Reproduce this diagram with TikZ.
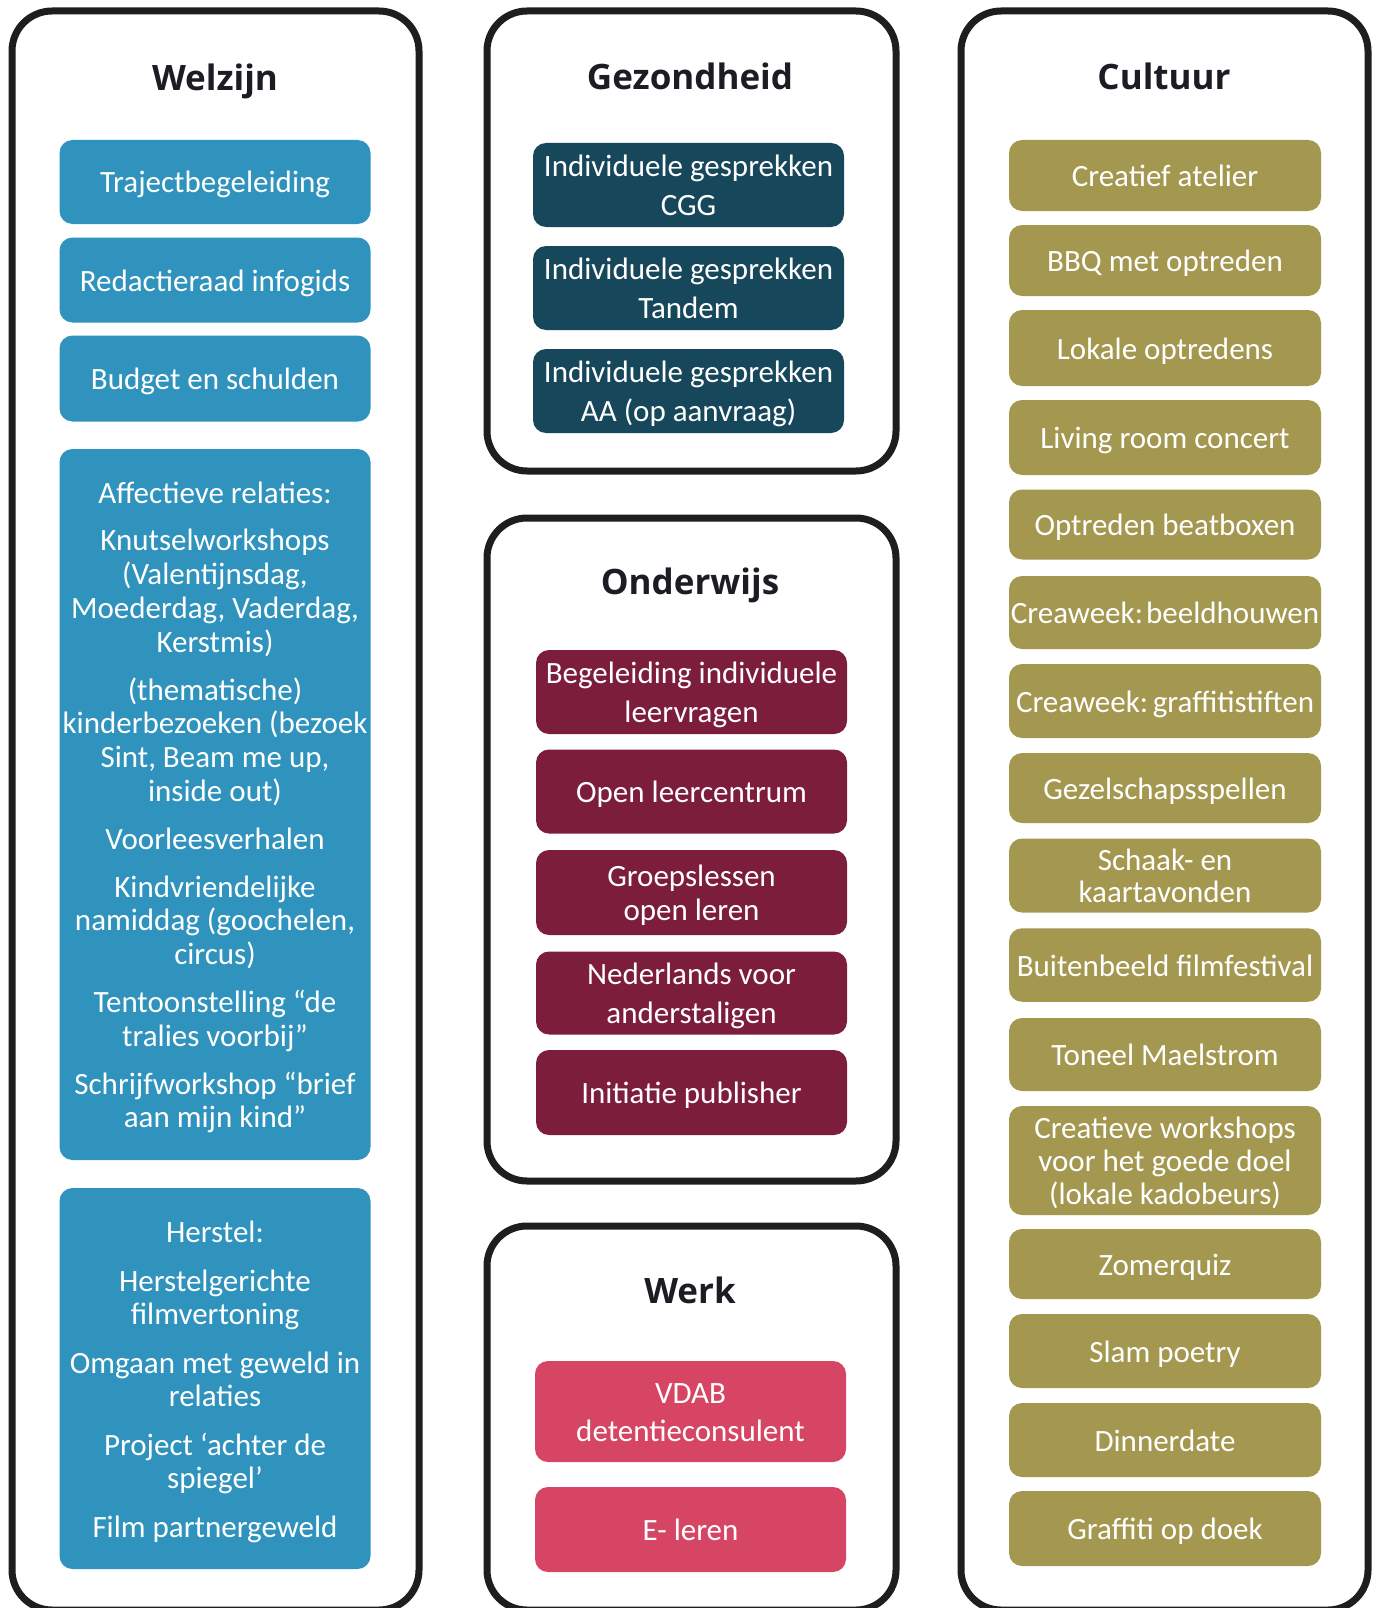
\documentclass[tikz,border=0pt]{standalone}
\usepackage{fontspec}
\setmainfont{Carlito}
\newfontfamily\titlefont{Open Sans}
\newcommand\strtop{\rule{0pt}{30pt}}
\newcommand\strbot{\rule[-8pt]{0pt}{8pt}}
\definecolor{framecol}{HTML}{1E1E1E}
\definecolor{titlecol}{HTML}{1C1C24}
\definecolor{wel}{HTML}{2F93BD}
\definecolor{gez}{HTML}{17475A}
\definecolor{ond}{HTML}{7D1D3C}
\definecolor{wrk}{HTML}{D64564}
\definecolor{cul}{HTML}{A49850}
\begin{document}
\begin{tikzpicture}[x=1pt,y=-1pt,
  frame/.style={draw=framecol, line width=7pt, rounded corners=40pt},
  ttl/.style={anchor=base, inner sep=0pt, text=titlecol, font=\titlefont\bfseries\fontsize{35}{40}\selectfont},
  item/.style={rounded corners=13pt, inner sep=0pt, minimum width=311pt, text=white, align=center, font=\fontsize{31}{33.8}\selectfont},
  welbox/.style={item, fill=wel},
  gezbox/.style={item, fill=gez},
  ondbox/.style={item, fill=ond},
  wrkbox/.style={item, fill=wrk},
  culbox/.style={item, fill=cul, minimum width=312pt}]
\fill[white] (0,0) rectangle (1378,1608);
\begin{scope}
\clip (0,0) rectangle (1378,1608);
% frames
\draw[frame] (12,11) rectangle (419,1610);
\draw[frame] (487,11) rectangle (896,471);
\draw[frame] (487,518) rectangle (896,1181);
\draw[frame] (487,1226) rectangle (896,1610);
\draw[frame] (961,11) rectangle (1368,1610);
\end{scope}
\useasboundingbox (0,0) rectangle (1378,1608);

% titles
\node[ttl] (tW) at (215,91) {Welzijn};
\node[ttl] (tG) at (690,90) {Gezondheid};
\node[ttl] (tO) at (690,594) {Onderwijs};
\node[ttl] (tK) at (690,1303) {Werk};
\node[ttl] (tC) at (1164,90) {Cultuur};

% Welzijn
\node[welbox, minimum height=84pt] (w1) at (215,182) {\strtop Trajectbegeleiding\strbot};
\node[welbox, minimum height=85pt] (w2) at (215,280) {\strtop Redactieraad infogids\strbot};
\node[welbox, minimum height=86pt] (w3) at (215,378.5) {\strtop Budget en schulden\strbot};
\node[welbox, minimum height=711pt] (w4) at (215,804.5) {\strtop Affectieve relaties:\\[14pt]
Knutselworkshops\\(Valentijnsdag,\\Moederdag, Vaderdag,\\Kerstmis)\\[14pt]
(thematische)\\kinderbezoeken (bezoek\\Sint, Beam me up,\\inside out)\\[14pt]
Voorleesverhalen\\[14pt]
Kindvriendelijke\\namiddag (goochelen,\\circus)\\[14pt]
Tentoonstelling “de\\tralies voorbij”\\[14pt]
Schrijfworkshop “brief\\aan mijn kind”\strbot};
\node[welbox, minimum height=381pt, font=\fontsize{31}{33}\selectfont] (w5) at (215,1378.5) {\strtop Herstel:\\[16pt]
Herstelgerichte\\filmvertoning\\[16pt]
Omgaan met geweld in\\relaties\\[16pt]
Project ‘achter de\\spiegel’\\[16pt]
Film partnergeweld\strbot};

% Gezondheid
\node[gezbox, minimum height=84pt] (g1) at (688.5,185) {\strtop Individuele gesprekken\\[5.7pt]CGG\strbot};
\node[gezbox, minimum height=84pt] (g2) at (688.5,288) {\strtop Individuele gesprekken\\[5pt]Tandem\strbot};
\node[gezbox, minimum height=84pt] (g3) at (688.5,391) {\strtop Individuele gesprekken\\[5pt]AA (op aanvraag)\strbot};

% Onderwijs
\node[ondbox, minimum height=84pt] (o1) at (691.5,692) {\strtop Begeleiding individuele\\[5pt]leervragen\strbot};
\node[ondbox, minimum height=84pt] (o2) at (691.5,791.5) {\strtop Open leercentrum\strbot};
\node[ondbox, minimum height=85pt] (o3) at (691.5,892.5) {\strtop Groepslessen\\open leren\strbot};
\node[ondbox, minimum height=83pt] (o4) at (691.5,993) {\strtop Nederlands voor\\[5pt]anderstaligen\strbot};
\node[ondbox, minimum height=85pt] (o5) at (691.5,1092.5) {\strtop Initiatie publisher\strbot};

% Werk
\node[wrkbox, minimum height=101pt] (k1) at (690.5,1411.5) {\strtop VDAB\\[4pt]detentieconsulent\strbot};
\node[wrkbox, minimum height=85pt] (k2) at (690.5,1529.5) {\strtop E- leren\strbot};

% Cultuur
\node[culbox, minimum height=71pt] (c1) at (1165,175.5) {\strtop Creatief atelier\strbot};
\node[culbox, minimum height=71pt] (c2) at (1165,260.5) {\strtop BBQ met optreden\strbot};
\node[culbox, minimum height=76pt] (c3) at (1165,348) {\strtop Lokale optredens\strbot};
\node[culbox, minimum height=75pt] (c4) at (1165,437.5) {\strtop Living room concert\strbot};
\node[culbox, minimum height=70pt] (c5) at (1165,524.5) {\strtop Optreden beatboxen\strbot};
\node[culbox, minimum height=73pt] (c6) at (1165,612.5) {\strtop Creaweek:\hspace{0.1em}beeldhouwen\strbot};
\node[culbox, minimum height=74pt] (c7) at (1165,701) {\strtop Creaweek:\hspace{0.15em}graffitistiften\strbot};
\node[culbox, minimum height=70pt] (c8) at (1165,788) {\strtop Gezelschapsspellen\strbot};
\node[culbox, minimum height=74pt, font=\fontsize{31}{32.8}\selectfont] (c9) at (1165,875.5) {\strtop Schaak- en\\kaartavonden\strbot};
\node[culbox, minimum height=73.5pt] (c10) at (1165,965) {\strtop Buitenbeeld filmfestival\strbot};
\node[culbox, minimum height=73pt] (c11) at (1165,1054.5) {\strtop Toneel Maelstrom\strbot};
\node[culbox, minimum height=109pt, font=\fontsize{31}{32.8}\selectfont] (c12) at (1165,1160.5) {\strtop Creatieve workshops\\voor het goede doel\\(lokale kadobeurs)\strbot};
\node[culbox, minimum height=70pt] (c13) at (1165,1264) {\strtop Zomerquiz\strbot};
\node[culbox, minimum height=74pt] (c14) at (1165,1351) {\strtop Slam poetry\strbot};
\node[culbox, minimum height=74pt] (c15) at (1165,1440) {\strtop Dinnerdate\strbot};
\node[culbox, minimum height=75pt] (c16) at (1165,1528.5) {\strtop Graffiti op doek\strbot};
\end{tikzpicture}
\end{document}
